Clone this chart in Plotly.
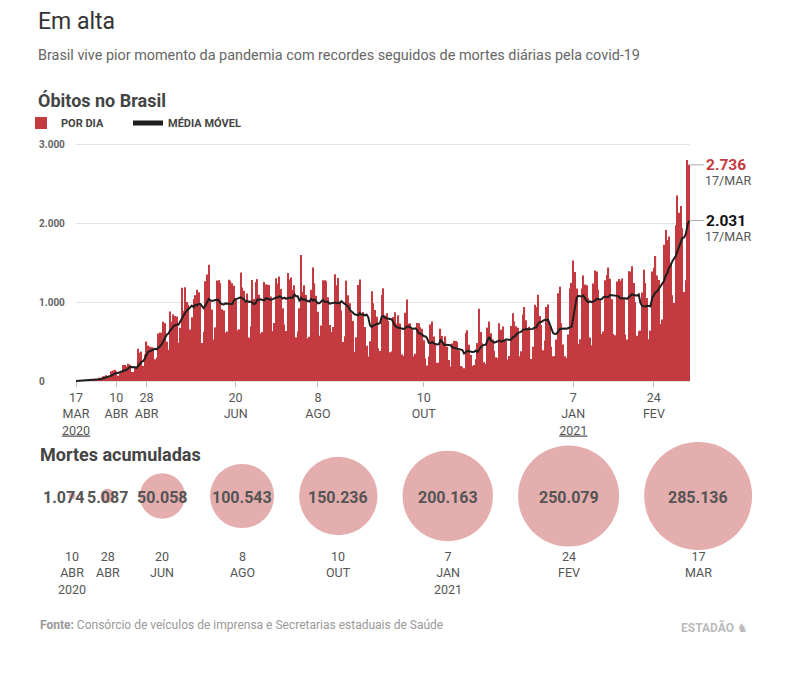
import numpy as np
import pandas as pd
import plotly.graph_objects as go

# Óbitos por dia no Brasil, 17/mar/2020 a 17/mar/2021 (um valor por dia)
mar_2020 = [1, 3, 3, 4, 7, 7, 9, 12, 11, 20, 15, 22, 22, 23, 42]
abr_2020 = [40, 58, 60, 73, 54, 67, 122, 133, 141, 125, 68, 99, 105, 204, 204,
            188, 217, 206, 115, 113, 166, 165, 407, 357, 372, 189, 338, 500, 449, 435]
mai_2020 = [428, 421, 275, 296, 600, 615, 610, 751, 730, 496, 396, 881, 749, 844, 824,
            816, 485, 674, 1179, 888, 1188, 1001, 965, 653, 807, 1039, 1086, 1156, 1124, 956, 480]
jun_2020 = [623, 1262, 1349, 1473, 1005, 904, 525, 679, 1272, 1274, 1239, 909, 892, 612, 627,
            1282, 1269, 1238, 1206, 1034, 641, 654, 1374, 1185, 1141, 990, 1109, 552, 692, 1280]
jul_2020 = [1038, 1252, 1290, 1091, 602, 620, 1254, 1223, 1220, 1214, 1071, 631, 733, 1300, 1233,
            1322, 1163, 921, 716, 632, 1367, 1284, 1311, 1156, 1211, 555, 627, 921, 1595, 1129, 1212]
ago_2020 = [1088, 541, 561, 1154, 1437, 1237, 1079, 876, 572, 703, 1274, 1275, 1262, 1060, 709,
            620, 684, 1352, 1212, 1304, 1007, 892, 494, 565, 1271, 1085, 984, 855, 758, 366, 553]
set_2020 = [1215, 1284, 834, 874, 682, 447, 310, 504, 1136, 983, 899, 814, 415, 381, 1090,
            1174, 829, 858, 761, 363, 377, 809, 869, 729, 831, 729, 335, 317, 863, 1031]
out_2020 = [729, 728, 657, 314, 344, 734, 731, 680, 660, 516, 285, 197, 309, 716, 754,
            562, 461, 230, 231, 661, 571, 496, 566, 432, 265, 183, 476, 510, 506, 495, 390]
nov_2020 = [190, 179, 162, 610, 642, 459, 328, 190, 201, 275, 480, 916, 620, 478, 236,
            216, 676, 754, 604, 526, 382, 301, 287, 730, 648, 691, 524, 509, 272, 317]
dez_2020 = [697, 857, 755, 694, 674, 313, 376, 842, 936, 770, 672, 686, 279, 433, 964,
            936, 1092, 823, 708, 389, 513, 936, 968, 694, 433, 314, 317, 525, 1111, 1194, 732]
jan_2021 = [462, 314, 293, 589, 1171, 1242, 1524, 1379, 1171, 469, 529, 1170, 1334, 1221, 1211,
            1050, 551, 452, 1233, 1400, 1386, 1156, 1039, 595, 627, 1274, 1343, 1436, 1295, 1034, 595]
fev_2021 = [580, 1259, 1292, 1270, 1299, 1043, 590, 525, 1390, 1386, 1452, 1239, 1000, 572,
            630, 639, 1120, 1407, 1239, 1051, 527, 637, 1386, 1433, 1582, 1337, 1279, 721]
mar_2021 = [778, 1726, 1910, 1786, 1829, 1498, 1086, 987, 1972, 2349, 2130, 2216, 1935, 1127,
            1275, 2798, 2736]

tick_dates = ["2020-03-17", "2020-04-10", "2020-04-28", "2020-06-20",
              "2020-08-08", "2020-10-10", "2021-01-07", "2021-02-24"]
tick_text = ["17<br>MAR<br><span style='text-decoration:underline'>2020</span>",
             "10<br>ABR", "28<br>ABR", "20<br>JUN", "8<br>AGO", "10<br>OUT",
             "7<br>JAN<br><span style='text-decoration:underline'>2021</span>", "24<br>FEV"]

# Mortes acumuladas
acum_values = [1074, 5087, 50058, 100543, 150236, 200163, 250079, 285136]
acum_dates = ["10<br>ABR<br>2020", "28<br>ABR", "20<br>JUN", "8<br>AGO",
              "10<br>OUT", "7<br>JAN<br>2021", "24<br>FEV", "17<br>MAR"]

deaths = (mar_2020 + abr_2020 + mai_2020 + jun_2020 + jul_2020 + ago_2020 + set_2020
          + out_2020 + nov_2020 + dez_2020 + jan_2021 + fev_2021 + mar_2021)
dates = pd.date_range("2020-03-17", "2021-03-17", freq="D")
s = pd.Series(deaths, index=dates)
media = s.rolling(7, min_periods=1).mean()

# --- layout helpers: page pixel -> paper (page body has an 8px margin) ---
OFF = 8
W, H = 792, 670
def px(x):
    return (x - OFF) / W
def py(y):
    return 1 - (y - OFF) / H

# main plot box on the page
X_LEFT, X_RIGHT = 76, 690
Y_ZERO, Y_TOP = 381, 144
YMAX, YPAD = 3000, 100
yscale = (Y_ZERO - Y_TOP) / YMAX

RED = "#c43a41"
PINK = "#d98c8c"
FONT = "Roboto"

def fmt(v):
    return f"{int(round(v)):,}".replace(",", ".")

fig = go.Figure()
fig.add_trace(go.Bar(
    x=dates, y=deaths, name="POR DIA", legend="legend",
    marker=dict(color=RED, line_width=0),
))
fig.add_trace(go.Scatter(
    x=dates, y=media, mode="lines", showlegend=False,
    line=dict(color="#1e1e1e", width=2),
))
# legend-only entry (thicker swatch, like the original)
fig.add_trace(go.Scatter(
    x=[None], y=[None], mode="lines", name="MÉDIA MÓVEL", legend="legend2",
    line=dict(color="#1e1e1e", width=5),
))

# bubbles: area ~ value, packed left to right with a fixed gap
D_MAX, GAP = 108, 25
diam = [D_MAX * np.sqrt(v / max(acum_values)) for v in acum_values]
bx = [72.0]
for i in range(1, len(diam)):
    bx.append(bx[-1] + diam[i - 1] / 2 + GAP + diam[i] / 2)
BY = 496

fig.add_trace(go.Scatter(
    x=bx, y=[BY] * len(bx), mode="markers", xaxis="x2", yaxis="y2",
    marker=dict(size=acum_values, sizemode="area",
                sizeref=2 * max(acum_values) / D_MAX ** 2,
                color=PINK, line_width=0),
    cliponaxis=False, showlegend=False, hoverinfo="skip",
))

annotations = []
label_shift = [-9, 0, 0, 0, 0, 0, 0, 0]
for x, v, d, sh in zip(bx, acum_values, acum_dates, label_shift):
    annotations.append(dict(
        x=x, y=BY + 2, xref="x2", yref="y2", text=f"<b>{fmt(v)}</b>", showarrow=False,
        xshift=sh, font=dict(size=16, color="#555"),
    ))
    annotations.append(dict(
        x=x, y=547, xref="x2", yref="y2", text=d, showarrow=False, yanchor="top",
        font=dict(size=12.5, color="#555"),
    ))

# last-day labels
for val, col in [(deaths[-1], RED), (media.iloc[-1], "#111")]:
    annotations.append(dict(
        x=dates[-1], y=val, xref="x", yref="y", text=f"<b>{fmt(val)}</b>",
        showarrow=True, arrowhead=0, arrowwidth=1, arrowcolor="#aaa",
        ax=15, ay=0, xanchor="left", font=dict(size=15.5, color=col),
    ))
    annotations.append(dict(
        x=dates[-1], y=val, xref="x", yref="y", text="17/MAR", showarrow=False,
        xanchor="left", xshift=14, yshift=-16, font=dict(size=12.5, color="#555"),
    ))

texts = [
    (37, 21, "Em alta", dict(size=23, color="#333"), 22),
    (37, 56, "Brasil vive pior momento da pandemia com recordes seguidos de mortes diárias pela covid-19",
     dict(size=14.4, color="#666"), None),
    (37, 101, "<b>Óbitos no Brasil</b>", dict(size=18, color="#444"), None),
    (39, 454, "<b>Mortes acumuladas</b>", dict(size=18, color="#444"), None),
    (39, 625, "<b>Fonte:</b> Consórcio de veículos de imprensa e Secretarias estaduais de Saúde",
     dict(size=12, color="#999"), None),
]
for x, y, t, f, h in texts:
    annotations.append(dict(x=px(x), y=py(y), xref="paper", yref="paper", text=t,
                            showarrow=False, xanchor="left", yanchor="middle", font=f,
                            height=h, borderpad=0))
annotations.append(dict(x=px(750), y=py(627), xref="paper", yref="paper",
                        text="<b>ESTADÃO</b> ♞", showarrow=False, xanchor="right",
                        yanchor="middle", font=dict(size=12, color="#bbb")))

legend_style = dict(orientation="h", xanchor="left", yanchor="middle", y=py(123),
                    font=dict(size=11, color="#444", weight="bold"), itemwidth=30,
                    bgcolor="rgba(0,0,0,0)")

fig.update_layout(
    width=W, height=H,
    margin=dict(l=0, r=0, t=0, b=0, autoexpand=False),
    plot_bgcolor="white", paper_bgcolor="white",
    separators=",.",
    bargap=0.3,
    hovermode=False,
    font=dict(family=FONT, color="#555"),
    legend=dict(x=px(21), **legend_style),
    legend2=dict(x=px(128), **legend_style),
    annotations=annotations,
    xaxis=dict(
        type="date", domain=[px(X_LEFT), px(X_RIGHT)], anchor="free", position=py(Y_ZERO),
        range=[dates[0], dates[-1] + pd.Timedelta(hours=12)],
        tickvals=tick_dates, ticktext=tick_text,
        ticks="outside", ticklen=5, tickcolor="#bbb",
        showgrid=False, zeroline=False, showline=False, automargin=False,
        tickfont=dict(size=12.5, color="#555"),
    ),
    yaxis=dict(
        domain=[py(Y_ZERO + YPAD * yscale), py(Y_TOP - YPAD * yscale)], anchor="x",
        range=[-YPAD, YMAX + YPAD],
        tickvals=[0, 1000, 2000, 3000], tickformat=",d",
        gridcolor="#e2e2e2", zeroline=False, showline=False, automargin=False,
        ticklabelposition="inside", ticklabelstandoff=-40,
        tickfont=dict(size=10, color="#666", weight="bold"),
    ),
    xaxis2=dict(domain=[0, 1], anchor="y2", range=[OFF, OFF + W], visible=False,
                automargin=False),
    yaxis2=dict(domain=[0, py(430)], anchor="x2", range=[OFF + H, 430], visible=False,
                automargin=False),
)

fig.write_html("out.html")
